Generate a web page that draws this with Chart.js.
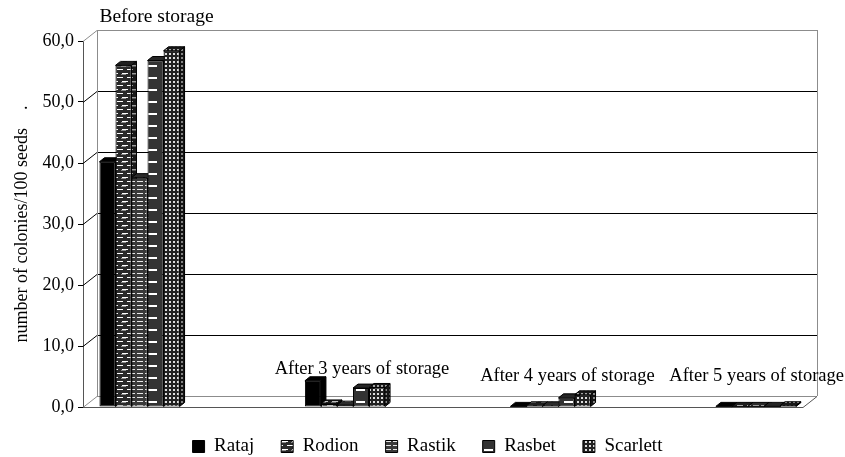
<!DOCTYPE html>
<html>
<head>
<meta charset="utf-8">
<script src="https://cdn.jsdelivr.net/npm/chart.js@4.4.0/dist/chart.umd.min.js"></script>
<style>
  html, body { margin: 0; padding: 0; background: #fff; }
</style>
</head>
<body>
<canvas id="chart" width="845" height="457"></canvas>
<script>
// data
const categories = ["Before storage", "After 3 years of storage", "After 4 years of storage", "After 5 years of storage"];
const varieties = ["Rataj", "Rodion", "Rastik", "Rasbet", "Scarlett"];
const rataj = [40.2, 4.3, 0.1, 0.1];
const rodion = [56.0, 0.5, 0.2, 0.1];
const rastik = [37.6, 0.3, 0.2, 0.1];
const rasbet = [56.8, 3.1, 1.5, 0.1];
const scarlett = [58.4, 3.2, 2.0, 0.2];
const yTicks = [0, 10, 20, 30, 40, 50, 60];
const yTitle = "number of colonies/100 seeds    .";

const series = [rataj, rodion, rastik, rasbet, scarlett];
const SERIF = "'Liberation Serif', 'Times New Roman', serif";

// fill patterns like the old excel hatches
function makePattern(w, h, bg, draw) {
  const c = document.createElement("canvas");
  c.width = w;
  c.height = h;
  const g = c.getContext("2d");
  g.fillStyle = bg;
  g.fillRect(0, 0, w, h);
  g.fillStyle = "#fff";
  draw(g);
  return document.getElementById("chart").getContext("2d").createPattern(c, "repeat");
}

const patterns = [
  "#000",
  makePattern(10, 8, "#2a2a2a", (g) => {
    g.fillRect(2, 1, 6, 1);
    g.fillStyle = "#8a8a8a";
    g.fillRect(1, 2, 5, 1);
    g.fillStyle = "#fff";
    g.fillRect(0, 5, 3, 1);
    g.fillRect(7, 5, 3, 1);
  }),
  makePattern(8, 4, "#3a3a3a", (g) => {
    g.fillStyle = "#e8e8e8";
    g.fillRect(1, 1, 6, 1);
  }),
  makePattern(16, 12, "#333", (g) => {
    g.fillRect(4, 5, 9, 2);
  }),
  makePattern(4, 4, "#222", (g) => {
    g.fillStyle = "#ddd";
    g.fillRect(1, 1, 2, 2);
  }),
];

// fake 3d: back wall, slanted grid lines, bar tops and sides
const depthPlugin = {
  id: "depth",
  beforeDatasetsDraw(chart) {
    const { ctx, chartArea: a, scales } = chart;
    const y = scales.y;
    const wx = 14, wy = -11;
    ctx.save();
    ctx.lineWidth = 1;

    ctx.strokeStyle = "#8c8c8c";
    ctx.beginPath();
    ctx.moveTo(a.right + wx + 0.5, a.top + wy);
    ctx.lineTo(a.right + wx + 0.5, a.bottom + wy);
    ctx.stroke();

    yTicks.forEach((v, i) => {
      const py = Math.round(y.getPixelForValue(v)) + 0.5;
      const edge = i === 0 || i === yTicks.length - 1;
      ctx.strokeStyle = edge ? "#8c8c8c" : "#000";
      ctx.beginPath();
      ctx.moveTo(a.left, py);
      ctx.lineTo(a.left + wx, py + wy);
      ctx.lineTo(a.right + wx, py + wy);
      ctx.stroke();
    });

    ctx.strokeStyle = "#8c8c8c";
    ctx.beginPath();
    ctx.moveTo(a.left + wx + 0.5, a.top + wy);
    ctx.lineTo(a.left + wx + 0.5, a.bottom + wy);
    ctx.stroke();

    ctx.strokeStyle = "#555";
    ctx.beginPath();
    ctx.moveTo(a.left, a.bottom + 0.5);
    ctx.lineTo(a.right, a.bottom + 0.5);
    ctx.lineTo(a.right + wx, a.bottom + wy + 0.5);
    ctx.stroke();

    // bar sides first, then tops, the fronts come after from chart.js
    const dx = 5, dy = -4;
    const bars = [];
    chart.data.datasets.forEach((ds, k) => {
      chart.getDatasetMeta(k).data.forEach((el) => {
        const p = el.getProps(["x", "y", "base", "width"], true);
        bars.push({ l: p.x - p.width / 2, r: p.x + p.width / 2, t: p.y, b: p.base, fill: patterns[k] });
      });
    });
    const face = (pts, fill, shade) => {
      ctx.beginPath();
      ctx.moveTo(pts[0][0], pts[0][1]);
      pts.slice(1).forEach((q) => ctx.lineTo(q[0], q[1]));
      ctx.closePath();
      ctx.fillStyle = fill;
      ctx.fill();
      ctx.fillStyle = shade;
      ctx.fill();
      ctx.strokeStyle = "#000";
      ctx.stroke();
    };
    bars.forEach((b) => {
      face([[b.r, b.t], [b.r + dx, b.t + dy], [b.r + dx, b.b + dy], [b.r, b.b]], b.fill, "rgba(0,0,0,0.4)");
    });
    bars.forEach((b) => {
      face([[b.l, b.t], [b.l + dx, b.t + dy], [b.r + dx, b.t + dy], [b.r, b.t]], b.fill, "rgba(0,0,0,0.25)");
    });
    ctx.restore();
  },
  afterDatasetsDraw(chart) {
    // group names written above each cluster
    const { ctx, chartArea: a, scales } = chart;
    const x = scales.x, y = scales.y;
    ctx.save();
    ctx.fillStyle = "#000";
    ctx.textAlign = "center";
    ctx.textBaseline = "middle";
    categories.forEach((name, i) => {
      const top = Math.max(...series.map((s) => s[i]));
      let py = Math.min(y.getPixelForValue(top) - 12, y.getPixelForValue(0) - 31);
      let size = 18.5;
      if (py - 10 < a.top) {
        py = a.top - 24;
        size = 19.5;
      }
      ctx.font = size + "px " + SERIF;
      const w = ctx.measureText(name).width;
      let px = x.getPixelForValue(i) + 17;
      px = Math.min(px, chart.width - 1 - w / 2);
      ctx.fillText(name, px, py);
    });
    ctx.restore();
  },
};

const ctx = document.getElementById("chart").getContext("2d");
const chart = new Chart(ctx, {
  type: "bar",
  data: {
    datasets: series.map((vals, k) => ({
      label: varieties[k],
      data: vals.map((v, i) => ({ x: i, y: v })),
      backgroundColor: patterns[k],
      borderColor: "#000",
      borderWidth: 1,
      borderSkipped: false,
      categoryPercentage: 0.39,
      barPercentage: 1,
    })),
  },
  options: {
    responsive: false,
    animation: false,
    devicePixelRatio: 1,
    layout: { padding: { top: 41, left: 10, right: 0, bottom: 0 } },
    scales: {
      x: {
        type: "linear",
        min: -0.275,
        max: 3.229,
        offset: false,
        display: false,
        grid: { offset: false },
        afterBuildTicks: (s) => { s.ticks = categories.map((c, i) => ({ value: i })); },
      },
      y: {
        min: 0,
        max: 60,
        afterFit: (s) => { s.width = 73; },
        afterBuildTicks: (s) => { s.ticks = yTicks.map((v) => ({ value: v })); },
        border: { color: "#555", width: 1 },
        grid: { drawOnChartArea: false, tickLength: 5, color: "#000" },
        ticks: {
          color: "#000",
          padding: 4,
          font: { family: SERIF, size: 18 },
          callback: (v) => v.toFixed(1).replace(".", ","),
        },
        title: {
          display: true,
          text: yTitle,
          color: "#000",
          font: { family: SERIF, size: 18 },
          padding: { top: 1, bottom: 0 },
        },
      },
      // empty right axis, only keeps room for the 3d wall
      y2: {
        position: "right",
        afterFit: (s) => { s.width = 42; },
        grid: { display: false },
        ticks: { display: false },
        border: { display: false },
      },
    },
    plugins: {
      legend: {
        position: "bottom",
        maxHeight: 50,
        title: { display: true, text: " ", font: { size: 2.5 }, padding: 0 },
        labels: {
          boxWidth: 12,
          boxHeight: 12,
          padding: 27,
          color: "#000",
          font: { family: SERIF, size: 19 },
        },
      },
      tooltip: { enabled: false },
    },
  },
  plugins: [depthPlugin],
});
</script>
</body>
</html>
